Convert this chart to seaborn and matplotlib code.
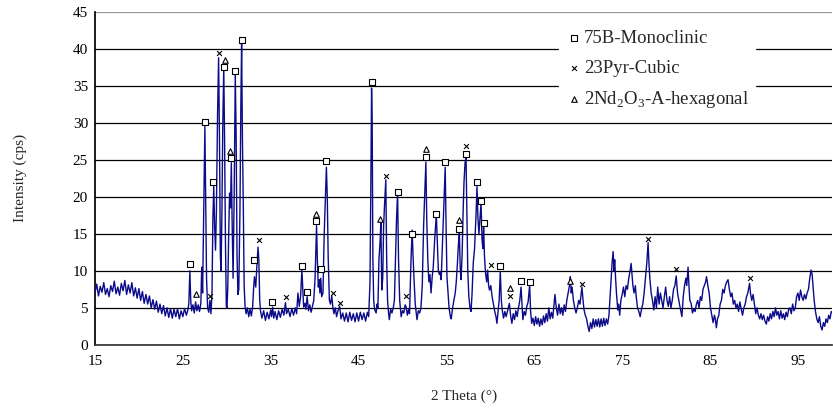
import matplotlib
import matplotlib.pyplot as plt
import pandas as pd
import seaborn as sns

matplotlib.use("Agg")

# XRD scan: (2 theta in degrees, intensity in cps)
scan_points = [
    (15.0, 7.0), (15.2, 8.2), (15.4, 6.6), (15.6, 7.9), (15.8, 7.1), (16.0, 8.4), (16.2, 6.8), (16.4, 7.6),
    (16.6, 6.5), (16.8, 8.0), (17.0, 7.2), (17.2, 8.6), (17.4, 6.9), (17.6, 7.8), (17.8, 6.7), (18.0, 8.3),
    (18.2, 7.3), (18.4, 8.7), (18.6, 6.8), (18.8, 8.1), (19.0, 7.0), (19.2, 8.4), (19.4, 6.6), (19.6, 7.7),
    (19.8, 6.3), (20.0, 7.6), (20.2, 6.0), (20.4, 7.2), (20.6, 5.6), (20.8, 6.8), (21.0, 5.5), (21.2, 6.6),
    (21.4, 5.0), (21.6, 6.1), (21.8, 4.8), (22.0, 5.9), (22.2, 4.4), (22.4, 5.5), (22.6, 4.2), (22.8, 5.3),
    (23.0, 3.9), (23.2, 5.0), (23.4, 3.7), (23.6, 4.9), (23.8, 3.6), (24.0, 4.8), (24.2, 3.8), (24.4, 4.9),
    (24.6, 3.5), (24.8, 4.6), (25.0, 3.8), (25.2, 4.9), (25.4, 4.0), (25.55, 4.6),
    (25.68, 5.5), (25.8, 10.0), (25.9, 6.0), (26.0, 4.6), (26.15, 5.4), (26.3, 4.3), (26.45, 5.8), (26.6, 4.6),
    (26.75, 5.4), (26.9, 4.5), (27.05, 5.6), (27.15, 10.5), (27.25, 7.0), (27.35, 16.0), (27.43, 24.0),
    (27.51, 29.5), (27.6, 20.0), (27.7, 9.0), (27.82, 5.0), (27.95, 4.4), (28.08, 6.0), (28.2, 4.2),
    (28.32, 7.0), (28.42, 17.0), (28.52, 21.4), (28.62, 16.0), (28.72, 12.8), (28.82, 18.0), (28.95, 31.0),
    (29.07, 38.8), (29.17, 28.0), (29.27, 12.0), (29.35, 10.0), (29.45, 18.0), (29.55, 30.0), (29.66, 37.4),
    (29.75, 28.0), (29.85, 14.0), (29.95, 5.2), (30.03, 5.0), (30.12, 8.0), (30.22, 15.0), (30.32, 20.5),
    (30.42, 18.5), (30.52, 24.6), (30.62, 16.0), (30.72, 9.0), (30.84, 20.0), (30.97, 36.5), (31.07, 28.0),
    (31.17, 12.0), (31.27, 6.8), (31.37, 7.5), (31.5, 18.0), (31.6, 32.0), (31.69, 40.8), (31.78, 28.0),
    (31.88, 19.0), (31.98, 8.0), (32.08, 5.2), (32.2, 4.2), (32.35, 5.0), (32.5, 3.8), (32.65, 4.8),
    (32.8, 3.9), (32.95, 5.2), (33.05, 7.5), (33.15, 9.2), (33.3, 7.8), (33.42, 10.5), (33.56, 13.2),
    (33.65, 11.5), (33.75, 6.0), (33.85, 4.5),
    (34.0, 3.6), (34.2, 4.6), (34.4, 3.3), (34.6, 4.4), (34.8, 3.5), (35.0, 4.7), (35.1, 3.8), (35.22, 5.1),
    (35.35, 3.6), (35.5, 4.5), (35.7, 3.4), (35.9, 4.6), (36.1, 3.7), (36.3, 4.8), (36.5, 4.0), (36.68, 5.7),
    (36.8, 4.2), (37.0, 4.8), (37.2, 3.8), (37.4, 4.9), (37.6, 4.0), (37.8, 5.0), (37.95, 4.2), (38.1, 7.0),
    (38.25, 5.2), (38.4, 6.5), (38.55, 10.1), (38.65, 7.5), (38.75, 5.1), (38.9, 5.6), (39.0, 4.8),
    (39.15, 6.5), (39.3, 4.6), (39.45, 5.4), (39.6, 4.4), (39.75, 5.2), (39.9, 6.0), (40.05, 9.0),
    (40.15, 13.0), (40.22, 16.1), (40.32, 11.0), (40.42, 7.8), (40.52, 8.8), (40.6, 7.0), (40.7, 9.0),
    (40.8, 6.5), (40.95, 7.0), (41.08, 14.6), (41.2, 19.0), (41.34, 24.0), (41.44, 20.0), (41.54, 12.0),
    (41.68, 6.0), (41.8, 5.5), (41.95, 6.6), (42.08, 5.0), (42.2, 4.2), (42.35, 5.0), (42.5, 3.8),
    (42.65, 4.6), (42.85, 5.2), (43.0, 3.5), (43.2, 4.3), (43.4, 3.2), (43.6, 4.3), (43.8, 3.1), (44.0, 4.4),
    (44.2, 3.3), (44.4, 4.2), (44.6, 3.1), (44.8, 4.3), (45.0, 3.2), (45.2, 4.4), (45.4, 3.4), (45.6, 4.3),
    (45.8, 3.2), (46.0, 4.4), (46.15, 3.8),
    (46.3, 8.4), (46.4, 22.0), (46.48, 34.7), (46.55, 30.0), (46.63, 11.5), (46.72, 6.0), (46.82, 4.8),
    (47.0, 4.3), (47.1, 5.5), (47.2, 5.0), (47.32, 11.5), (47.45, 14.0), (47.54, 16.5), (47.64, 7.4),
    (47.75, 9.0), (47.85, 16.0), (47.96, 19.0), (48.1, 22.3), (48.2, 11.5), (48.3, 6.0), (48.42, 4.2),
    (48.5, 3.4), (48.65, 4.8), (48.8, 4.3), (48.95, 5.0), (49.08, 6.0), (49.2, 11.5), (49.32, 17.0),
    (49.44, 20.5), (49.55, 11.5), (49.68, 6.0), (49.85, 3.8), (50.0, 4.6), (50.15, 4.3), (50.3, 5.4),
    (50.42, 5.1), (50.55, 4.0), (50.7, 4.8), (50.8, 4.2), (50.97, 11.5), (51.1, 15.5), (51.2, 12.0),
    (51.3, 9.2), (51.45, 5.5), (51.65, 3.4), (51.8, 4.6), (51.95, 4.3), (52.1, 5.0), (52.25, 8.0),
    (52.4, 16.0), (52.55, 21.0), (52.66, 24.7), (52.76, 17.0), (52.88, 11.5), (53.0, 8.5), (53.12, 9.5),
    (53.25, 7.0), (53.38, 9.2), (53.5, 10.5), (53.65, 14.0), (53.76, 16.0), (53.86, 17.3), (53.96, 13.8),
    (54.08, 10.0), (54.2, 9.5), (54.3, 9.8), (54.4, 8.8), (54.5, 12.0), (54.62, 16.0), (54.74, 20.0),
    (54.86, 24.0), (54.96, 16.0), (55.06, 9.2), (55.18, 7.0), (55.3, 5.0), (55.45, 3.8), (55.55, 3.5),
    (55.7, 5.0), (55.85, 6.0),
    (56.0, 7.0), (56.12, 8.5), (56.25, 11.0), (56.36, 13.5), (56.47, 15.1), (56.58, 10.0), (56.66, 8.8),
    (56.78, 12.0), (56.9, 18.0), (57.0, 22.0), (57.12, 24.6), (57.23, 25.3), (57.33, 18.0), (57.43, 10.0),
    (57.55, 6.5), (57.68, 5.0), (57.8, 4.5), (57.92, 7.0), (58.05, 11.0), (58.2, 13.0), (58.35, 17.0),
    (58.48, 21.4), (58.58, 17.3), (58.7, 15.0), (58.82, 17.0), (58.94, 19.2), (59.05, 14.2), (59.15, 13.0),
    (59.23, 16.0), (59.33, 12.0), (59.45, 9.7), (59.58, 8.5), (59.69, 10.1), (59.8, 8.0), (59.9, 7.4),
    (60.05, 8.0), (60.2, 6.5), (60.35, 5.5), (60.5, 4.5), (60.64, 3.8), (60.75, 2.9), (60.88, 4.5),
    (61.0, 6.0), (61.13, 9.9), (61.25, 6.0), (61.35, 4.7), (61.5, 3.6), (61.65, 4.5), (61.8, 3.8),
    (62.0, 4.8), (62.16, 5.6), (62.3, 4.0), (62.45, 2.9), (62.6, 4.2), (62.75, 3.4), (62.9, 4.6),
    (63.05, 3.8), (63.2, 5.0), (63.35, 6.0), (63.49, 7.8), (63.6, 5.5), (63.7, 3.4), (63.85, 4.5),
    (64.0, 4.0), (64.15, 5.2), (64.3, 5.8), (64.47, 8.1), (64.58, 4.5), (64.7, 2.9), (64.85, 3.6),
    (65.0, 2.6), (65.15, 3.8), (65.3, 2.8), (65.45, 3.6), (65.6, 2.5), (65.75, 3.5), (65.9, 2.7),
    (66.05, 3.9), (66.2, 3.0), (66.35, 4.2), (66.5, 3.2), (66.65, 5.0), (66.8, 3.5), (66.95, 4.4),
    (67.1, 3.6), (67.25, 5.5), (67.35, 6.8), (67.5, 5.0), (67.65, 4.0), (67.8, 5.5), (67.95, 4.2),
    (68.1, 5.0), (68.25, 4.0), (68.4, 5.4), (68.55, 4.5), (68.7, 6.0), (68.85, 7.0), (69.0, 8.0),
    (69.1, 9.2), (69.2, 7.0), (69.3, 7.8), (69.45, 6.0), (69.6, 5.0), (69.75, 4.3), (69.9, 5.0),
    (70.05, 6.0), (70.2, 5.5), (70.3, 6.5), (70.42, 7.8), (70.55, 6.0), (70.65, 4.8), (70.8, 4.0),
    (70.95, 3.5), (71.1, 2.5), (71.25, 1.8), (71.4, 3.0), (71.55, 2.2), (71.7, 3.5), (71.85, 2.4),
    (72.0, 3.4), (72.15, 2.5), (72.3, 3.5), (72.45, 2.4), (72.6, 3.5), (72.75, 2.5), (72.9, 3.6),
    (73.05, 2.6), (73.2, 3.5), (73.35, 2.8), (73.5, 4.0), (73.6, 6.0), (73.75, 9.0), (73.85, 11.0),
    (73.97, 12.6), (74.07, 10.0), (74.15, 11.5), (74.25, 9.0), (74.35, 7.0), (74.5, 4.7), (74.6, 5.5),
    (74.72, 4.0), (74.85, 6.0), (75.0, 6.8), (75.15, 7.8), (75.3, 6.5), (75.45, 8.0), (75.6, 7.5),
    (75.75, 9.0), (75.9, 10.0), (76.02, 11.0), (76.12, 9.5), (76.22, 8.0), (76.35, 7.0), (76.5, 8.0),
    (76.6, 6.5), (76.75, 5.0), (76.9, 4.5), (77.05, 3.8), (77.2, 4.8), (77.35, 5.5), (77.5, 7.0),
    (77.65, 9.0), (77.8, 11.0), (77.95, 13.8), (78.05, 11.0), (78.15, 9.0), (78.3, 7.0), (78.45, 6.0),
    (78.6, 4.7), (78.75, 6.5), (78.9, 5.0), (79.05, 7.8), (79.2, 5.5), (79.35, 7.0), (79.5, 6.0),
    (79.65, 5.0), (79.8, 6.5), (79.95, 7.8), (80.1, 6.0), (80.25, 5.2), (80.4, 6.5), (80.55, 5.0),
    (80.7, 6.0), (80.85, 7.5), (81.0, 8.0), (81.15, 9.3), (81.3, 7.0), (81.45, 6.0), (81.6, 5.0),
    (81.8, 3.8), (81.95, 6.5), (82.1, 8.0), (82.25, 9.0), (82.35, 8.0), (82.5, 10.5), (82.6, 8.0),
    (82.7, 6.0), (82.85, 5.6), (83.0, 4.3), (83.15, 4.8), (83.3, 4.5), (83.45, 5.5), (83.6, 6.0),
    (83.75, 5.0), (83.9, 6.5), (84.05, 6.0), (84.2, 7.5), (84.35, 8.0), (84.5, 8.5), (84.6, 9.2),
    (84.75, 8.0), (84.9, 7.0), (85.05, 5.0), (85.2, 4.0), (85.35, 3.0), (85.5, 4.0), (85.6, 3.5),
    (85.72, 2.3), (85.85, 3.5), (86.0, 4.0), (86.15, 5.5), (86.3, 6.0), (86.45, 7.5), (86.6, 7.0),
    (86.75, 8.0), (86.9, 8.5), (87.05, 8.8), (87.2, 7.5), (87.35, 6.5), (87.5, 7.0), (87.65, 5.5),
    (87.8, 6.0), (87.95, 5.0), (88.1, 5.5), (88.25, 4.5), (88.4, 5.8), (88.55, 4.8), (88.7, 4.0),
    (88.85, 5.0), (89.0, 5.5), (89.15, 6.5), (89.3, 7.0), (89.5, 8.3), (89.6, 7.0), (89.75, 6.0),
    (89.9, 6.8), (90.05, 5.5), (90.2, 4.2), (90.35, 5.0), (90.5, 4.0), (90.65, 3.5), (90.8, 4.2),
    (90.95, 3.4), (91.1, 4.0), (91.25, 3.2), (91.41, 2.8), (91.55, 3.8), (91.7, 3.2), (91.85, 4.2),
    (92.0, 3.5), (92.15, 4.5), (92.3, 3.8), (92.45, 5.0), (92.6, 4.0), (92.75, 4.5), (92.9, 3.5),
    (93.05, 4.6), (93.2, 3.6), (93.35, 4.2), (93.5, 3.4), (93.65, 4.4), (93.8, 3.8), (93.95, 4.8),
    (94.1, 5.0), (94.25, 4.2), (94.4, 5.5), (94.55, 4.6), (94.7, 5.0), (94.85, 6.5), (95.0, 7.0),
    (95.15, 6.0), (95.3, 7.4), (95.45, 6.5), (95.6, 6.0), (95.75, 6.8), (95.9, 6.2), (96.05, 7.0),
    (96.2, 7.5), (96.35, 9.0), (96.5, 10.1), (96.62, 9.5), (96.72, 8.0), (96.85, 6.0), (97.0, 4.5),
    (97.15, 3.5), (97.3, 3.0), (97.45, 3.8), (97.6, 2.5), (97.75, 2.0), (97.9, 3.0), (98.05, 2.5),
    (98.2, 3.5), (98.35, 3.0), (98.5, 4.0), (98.65, 3.5), (98.8, 4.5), (98.95, 4.3),
]

# phase labels placed above the peaks
mono_x = [25.8, 27.5, 28.46, 29.7, 30.43, 30.96, 31.69, 33.12, 35.2, 38.55, 39.12, 40.2, 40.72, 41.3,
          46.5, 49.44, 51.12, 52.62, 53.86, 54.85, 56.45, 57.2, 58.5, 58.95, 59.3, 61.15, 63.5, 64.5]
mono_y = [10.9, 30.1, 22.0, 37.5, 25.2, 37.0, 41.2, 11.5, 5.8, 10.6, 7.1, 16.7, 10.3, 24.8,
          35.5, 20.6, 15.0, 25.4, 17.7, 24.7, 15.6, 25.8, 22.0, 19.4, 16.5, 10.6, 8.6, 8.5]
cubic_x = [28.08, 29.07, 33.66, 36.7, 42.04, 42.87, 48.1, 50.35, 57.2, 60.02, 62.2, 70.47, 77.95, 81.15, 89.5]
cubic_y = [6.6, 39.4, 14.2, 6.5, 7.0, 5.7, 22.8, 6.6, 26.9, 10.8, 6.6, 8.2, 14.3, 10.3, 9.0]
hex_x = [26.55, 29.75, 30.36, 40.2, 47.45, 52.62, 56.45, 62.2, 69.1]
hex_y = [6.8, 38.5, 26.2, 17.7, 17.0, 26.4, 16.8, 7.7, 8.6]

phase_labels = ["75B-Monoclinic", "23Pyr-Cubic", r"2Nd$_\mathregular{2}$O$_\mathregular{3}$-A-hexagonal"]
x_ticks = [15, 25, 35, 45, 55, 65, 75, 85, 95]
y_ticks = [0, 5, 10, 15, 20, 25, 30, 35, 40, 45]

sns.set_theme(style="white")
plt.rcParams["font.family"] = ["Liberation Serif", "DejaVu Serif"]
plt.rcParams["mathtext.fontset"] = "custom"
plt.rcParams["mathtext.rm"] = "Liberation Serif"

scan = pd.DataFrame(scan_points, columns=["two_theta", "intensity"])

fig = plt.figure(figsize=(8.33, 4.09), dpi=100)
ax = fig.add_axes([0.114, 0.157, 0.885, 0.814])

sns.lineplot(data=scan, x="two_theta", y="intensity", sort=False, estimator=None,
             color="#0b0b8a", lw=1.0, ax=ax, zorder=3)

marker_style = dict(color="white", edgecolor="black", linewidth=0.8, ax=ax, zorder=4)
sns.scatterplot(x=mono_x, y=mono_y, marker="s", s=16, label=phase_labels[0], **marker_style)
sns.scatterplot(x=cubic_x, y=cubic_y, marker="x", s=12, color="black", linewidth=0.8,
                label=phase_labels[1], ax=ax, zorder=4)
sns.scatterplot(x=hex_x, y=hex_y, marker="^", s=16, label=phase_labels[2], **marker_style)

ax.set_xlim(15, 98.9)
ax.set_ylim(0, 45)
ax.set_xticks(x_ticks)
ax.set_yticks(y_ticks)
ax.set_xlabel("2 Theta (°)", fontsize=11, labelpad=16)
ax.set_ylabel("Intensity (cps)", fontsize=11, labelpad=33)
ax.tick_params(axis="x", direction="out", length=5, width=0.8, labelsize=11, colors="black", pad=2)
ax.tick_params(axis="y", direction="inout", length=6, width=0.8, labelsize=11, colors="black", pad=2)
ax.yaxis.grid(True, color="black", lw=0.9)
ax.xaxis.grid(False)
ax.get_ygridlines()[-1].set_color("#999999")
for side in ["top", "right"]:
    ax.spines[side].set_visible(False)
ax.spines["left"].set_color("black")
ax.spines["bottom"].set_color("#333333")

leg = ax.legend(loc="upper right", bbox_to_anchor=(0.895, 0.962), frameon=True, fontsize=13.5,
                handletextpad=0.05, handlelength=1.0, labelspacing=0.65, borderpad=0.3,
                borderaxespad=0.0, fancybox=False, framealpha=1.0)
leg.get_frame().set_edgecolor("white")
leg.set_zorder(5)

fig.savefig("out.png", dpi=100)
